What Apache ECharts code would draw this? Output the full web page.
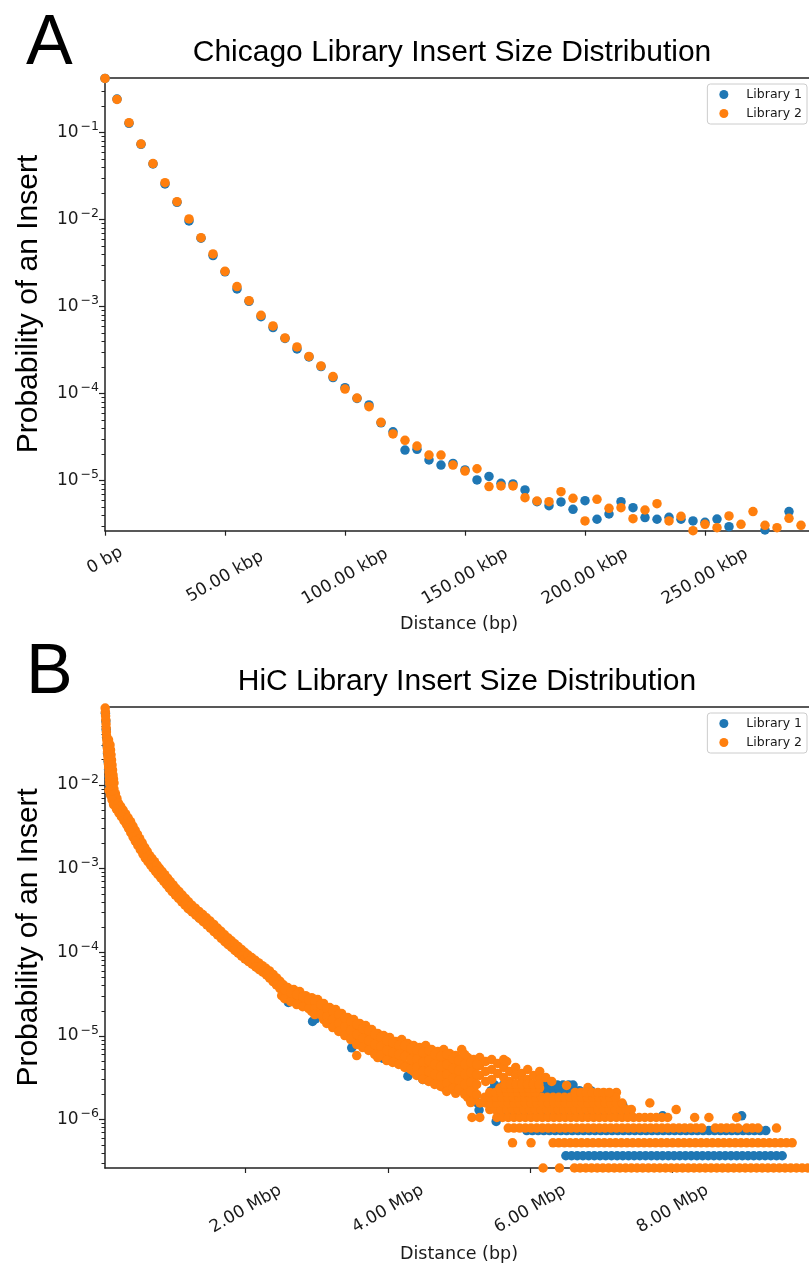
<!DOCTYPE html>
<html>
<head>
<meta charset="utf-8">
<title>Insert Size Distribution</title>
<script src="https://cdn.jsdelivr.net/npm/echarts@6/dist/echarts.min.js"></script>
<style>
  html, body { margin: 0; padding: 0; background: #fff; }
  #container { width: 809px; height: 1266px; }
</style>
</head>
<body>
<div id="container"></div>
<script>
var BLUE = '#1f77b4';
var ORANGE = '#ff7f0e';
var INK = '#1a1a1a';

// ---- Panel A: Chicago library (distance in bp) ----
var chicagoDist = [0, 5000, 10000, 15000, 20000, 25000, 30000, 35000, 40000, 45000,
  50000, 55000, 60000, 65000, 70000, 75000, 80000, 85000, 90000, 95000,
  100000, 105000, 110000, 115000, 120000, 125000, 130000, 135000, 140000, 145000,
  150000, 155000, 160000, 165000, 170000, 175000, 180000, 185000, 190000, 195000,
  200000, 205000, 210000, 215000, 220000, 225000, 230000, 235000, 240000, 245000,
  250000, 255000, 260000, 265000, 270000, 275000, 280000, 285000, 290000];
var chicagoLib1 = [0.42, 0.243, 0.128, 0.0735, 0.0437, 0.0257, 0.0158, 0.00966, 0.00612, 0.00386,
  0.00251, 0.00160, 0.00115, 0.000767, 0.000574, 0.000431, 0.000326, 0.000264, 0.000205, 0.000153,
  0.000117, 8.8e-5, 7.41e-5, 4.62e-5, 3.65e-5, 2.25e-5, 2.29e-5, 1.73e-5, 1.51e-5, 1.58e-5,
  1.33e-5, 1.02e-5, 1.12e-5, 9.31e-6, 9.16e-6, 7.82e-6, 5.74e-6, 5.16e-6, 5.69e-6, 4.68e-6,
  5.89e-6, 3.60e-6, 4.14e-6, 5.74e-6, 4.89e-6, 3.76e-6, 3.60e-6, 3.79e-6, 3.60e-6, 3.44e-6,
  3.32e-6, 3.62e-6, 2.96e-6, 2.55e-6, 2.50e-6, 2.71e-6, 2.50e-6, 4.41e-6, 2.50e-6];
var chicagoLib2 = [0.42, 0.241, 0.130, 0.0741, 0.0441, 0.0266, 0.0161, 0.0102, 0.00621, 0.00403,
  0.00255, 0.00170, 0.00117, 0.000795, 0.000600, 0.000437, 0.000344, 0.000268, 0.000208, 0.000157,
  0.000113, 8.91e-5, 7.09e-5, 4.68e-5, 3.44e-5, 2.91e-5, 2.50e-5, 1.97e-5, 1.97e-5, 1.51e-5,
  1.29e-5, 1.37e-5, 8.54e-6, 8.69e-6, 8.69e-6, 6.38e-6, 5.84e-6, 5.74e-6, 7.48e-6, 6.27e-6,
  3.44e-6, 6.10e-6, 4.81e-6, 4.89e-6, 3.66e-6, 4.60e-6, 5.44e-6, 3.44e-6, 3.89e-6, 2.66e-6,
  3.15e-6, 2.88e-6, 3.93e-6, 3.15e-6, 4.41e-6, 3.07e-6, 2.88e-6, 3.69e-6, 3.07e-6];
var chicagoXTicks = [0, 50000, 100000, 150000, 200000, 250000];
var chicagoYTicks = [1e-5, 1e-4, 1e-3, 1e-2, 1e-1];

// ---- Panel B: HiC library (distance in Mbp) ----
var hicCurveLib2 = [[0.025,0.0830],[0.028,0.0743],[0.031,0.0666],[0.034,0.0597],[0.037,0.0535],[0.039,0.0479],
  [0.042,0.0429],[0.045,0.0384],[0.048,0.0344],[0.051,0.0308],[0.055,0.0276],[0.058,0.0248],[0.062,0.0222],
  [0.066,0.0199],[0.070,0.0178],[0.074,0.0160],[0.079,0.0143],[0.083,0.0128],[0.086,0.0115],[0.089,0.0103],
  [0.072,0.0345],[0.093,0.0301],[0.100,0.0262],[0.107,0.0229],[0.114,0.0199],[0.121,0.01735],[0.128,0.0151],
  [0.135,0.01318],[0.142,0.0118],[0.149,0.01057],
  [0.148,0.00896],[0.080,0.00860],[0.101,0.00754],[0.169,0.00786],[0.190,0.00690],[0.122,0.00662],
  [0.143,0.00581],[0.211,0.00605],
  [0.242,0.00555],[0.183,0.00514],[0.218,0.00463],[0.277,0.00500],[0.312,0.00450],[0.253,0.00417],
  [0.288,0.00375],[0.347,0.00405],[0.382,0.00365],[0.323,0.00338],
  [0.353,0.00303],[0.415,0.00323],[0.447,0.00287],[0.385,0.00269],[0.417,0.00239],[0.479,0.00256],
  [0.510,0.00228],[0.448,0.00213],
  [0.484,0.00189],[0.545,0.00203],[0.580,0.00180],[0.519,0.00168],[0.554,0.00150],[0.615,0.00161],
  [0.650,0.00143],[0.590,0.00133],
  [0.627,0.00121],[0.683,0.00132],[0.718,0.00121],[0.662,0.00111],[0.697,0.00101],[0.753,0.00110],
  [0.788,0.00101],[0.732,0.000929],[0.767,0.000851],[0.824,0.000926],
  [0.862,0.000845],[0.808,0.000773],[0.848,0.000705],[0.901,0.000769],[0.940,0.000701],[0.887,0.000642],
  [0.926,0.000584],[0.980,0.000638],[1.019,0.000581],[0.966,0.000532],
  [1.012,0.000483],[1.063,0.000531],[1.108,0.000483],[1.057,0.000440],[1.102,0.000401],[1.152,0.000440],
  [1.197,0.000401],[1.147,0.000365],[1.192,0.000332],[1.242,0.000365],
  [1.292,0.000336],[1.247,0.000303],[1.299,0.000277],[1.344,0.000308],[1.396,0.000282],[1.351,0.000254],
  [1.403,0.000232],[1.448,0.000258],[1.500,0.000236],[1.455,0.000213],
  [1.504,0.000194],[1.552,0.000215],[1.602,0.000195],[1.554,0.000177],[1.605,0.000161],[1.653,0.000178],
  [1.703,0.000162],[1.656,0.000147],[1.706,0.000134],[1.754,0.000148],
  [1.799,0.000137],[1.754,0.000123],[1.802,0.000114],[1.847,0.000126],[1.893,0.000117],[1.848,0.000105],
  [1.895,9.76e-5],[1.940,0.000108],[1.987,1.00e-4],[1.942,9.02e-5],[1.989,8.35e-5],[2.034,9.27e-5],
  [2.083,8.63e-5],[2.041,7.73e-5],[2.091,7.19e-5],[2.134,8.03e-5],[2.184,7.46e-5],[2.142,6.68e-5],
  [2.191,6.20e-5],[2.233,6.92e-5],[2.284,6.44e-5],[2.242,5.77e-5],[2.292,5.36e-5],[2.334,5.98e-5],
  [2.387,5.42e-5],[2.336,4.91e-5],[2.384,4.47e-5],[2.434,4.93e-5],[2.482,4.49e-5],[2.432,4.07e-5],
  [2.479,3.71e-5],[2.529,4.09e-5],[2.578,3.73e-5],[2.527,3.38e-5]];
var hicCloudLib2 = [[2.506,4.10e-5],[2.506,3.03e-5],[2.590,3.78e-5],[2.590,2.87e-5],[2.675,3.58e-5],[2.675,2.72e-5],
  [2.759,3.39e-5],[2.759,2.57e-5],[2.843,3.03e-5],[2.843,2.44e-5],[2.928,2.87e-5],[2.928,2.31e-5],[2.928,1.96e-5],
  [3.012,2.72e-5],[3.012,2.07e-5],[3.096,2.44e-5],[3.096,1.85e-5],[3.096,1.57e-5],
  [3.181,2.18e-5],[3.181,1.75e-5],[3.181,1.41e-5],[3.265,2.07e-5],[3.265,1.57e-5],[3.265,1.26e-5],
  [3.349,1.85e-5],[3.349,1.49e-5],[3.349,1.13e-5],[3.434,1.66e-5],[3.434,1.33e-5],[3.434,1.01e-5],
  [3.518,1.57e-5],[3.518,1.19e-5],[3.518,9.06e-6],[3.560,5.83e-6],
  [3.602,1.41e-5],[3.602,1.07e-5],[3.602,8.11e-6],[3.686,1.33e-5],[3.686,1.01e-5],[3.686,7.68e-6],
  [3.771,1.19e-5],[3.771,9.06e-6],[3.771,6.88e-6],[3.855,1.07e-5],[3.855,8.57e-6],[3.855,6.51e-6],[3.855,5.52e-6],
  [3.939,1.01e-5],[3.939,7.68e-6],[3.939,5.83e-6],[4.024,9.57e-6],[4.024,7.27e-6],[4.024,5.52e-6],
  [4.108,8.57e-6],[4.108,6.88e-6],[4.108,5.22e-6],[4.192,9.06e-6],[4.192,6.51e-6],[4.192,4.95e-6],
  [4.277,8.11e-6],[4.277,6.16e-6],[4.277,4.43e-6],[4.361,7.68e-6],[4.361,5.83e-6],[4.361,4.69e-6],[4.361,3.76e-6],
  [4.445,7.27e-6],[4.445,5.52e-6],[4.445,4.20e-6],[4.445,3.37e-6],[4.530,7.68e-6],[4.530,5.83e-6],[4.530,4.43e-6],[4.530,3.19e-6],
  [4.614,6.88e-6],[4.614,5.22e-6],[4.614,3.97e-6],[4.614,3.02e-6],[4.698,6.51e-6],[4.698,4.95e-6],[4.698,3.76e-6],[4.698,2.86e-6],
  [4.783,6.88e-6],[4.783,5.22e-6],[4.783,3.97e-6],[4.783,3.02e-6],[4.783,2.42e-6],
  [4.867,6.16e-6],[4.867,4.69e-6],[4.867,3.56e-6],[4.867,2.70e-6],
  [4.951,5.83e-6],[4.951,4.43e-6],[4.951,3.37e-6],[4.951,2.56e-6],[4.951,2.06e-6],
  [5.036,6.88e-6],[5.036,5.22e-6],[5.036,3.97e-6],[5.036,3.02e-6],[5.036,2.29e-6],
  [5.120,5.52e-6],[5.120,4.20e-6],[5.120,3.19e-6],[5.120,2.42e-6],[5.120,1.84e-6],
  [5.204,5.22e-6],[5.204,3.97e-6],[5.204,3.02e-6],[5.204,2.29e-6],[5.204,1.74e-6],
  [5.289,5.52e-6],[5.289,4.43e-6],[5.289,3.37e-6],[5.373,4.95e-6],[5.373,3.76e-6],[5.373,2.86e-6],
  [5.457,5.22e-6],[5.457,3.97e-6],[5.457,3.02e-6],[5.542,4.69e-6],[5.542,3.56e-6],
  [5.626,5.22e-6],[5.626,4.20e-6],[5.626,3.19e-6],[5.668,4.95e-6],[5.710,3.76e-6],[5.710,2.86e-6],
  [5.794,4.20e-6],[5.794,3.37e-6],[5.879,3.56e-6],[5.879,2.86e-6],[5.963,3.97e-6],[5.963,3.02e-6],
  [6.047,3.37e-6],[6.132,3.76e-6],[6.132,3.02e-6],[6.216,3.19e-6],[6.301,2.86e-6],
  [6.51,2.56e-6],[6.81,2.42e-6],[7.21,2.11e-6],[7.42,1.32e-6],[8.31,1.06e-6],[8.51,1.06e-6],[9.46,7.92e-7],
  [2.548,3.58e-5],[2.548,2.79e-5],[2.632,3.30e-5],[2.632,2.57e-5],[2.717,3.12e-5],[2.717,2.37e-5],
  [2.801,2.95e-5],[2.801,2.24e-5],[2.886,2.72e-5],[2.886,2.12e-5],[2.970,2.57e-5],[2.970,2.12e-5],[2.970,1.80e-5],
  [3.054,2.37e-5],[3.054,1.80e-5],[3.139,2.12e-5],[3.139,1.70e-5],[3.139,1.41e-5],
  [3.223,1.96e-5],[3.223,1.57e-5],[3.223,1.26e-5],[3.307,1.80e-5],[3.307,1.41e-5],[3.307,1.13e-5],
  [3.392,1.66e-5],[3.392,1.29e-5],[3.392,1.01e-5],[3.476,1.49e-5],[3.476,1.16e-5],[3.476,9.06e-6],
  [3.560,1.37e-5],[3.560,1.04e-5],[3.560,7.89e-6],[3.644,1.22e-5],[3.644,9.31e-6],[3.644,7.27e-6],
  [3.729,1.16e-5],[3.729,8.81e-6],[3.729,6.70e-6],[3.813,1.04e-5],[3.813,7.89e-6],[3.813,6.00e-6],
  [3.897,9.57e-6],[3.897,7.47e-6],[3.897,5.83e-6],[3.982,8.81e-6],[3.982,6.70e-6],[3.982,5.08e-6],
  [4.066,8.34e-6],[4.066,6.34e-6],[4.066,4.82e-6],[4.150,7.68e-6],[4.150,6.00e-6],[4.150,4.56e-6],
  [4.235,7.68e-6],[4.235,5.68e-6],[4.235,4.20e-6],[4.319,7.07e-6],[4.319,5.22e-6],[4.319,3.97e-6],
  [4.403,6.70e-6],[4.403,5.22e-6],[4.403,4.20e-6],[4.403,3.37e-6],
  [4.488,6.34e-6],[4.488,4.82e-6],[4.488,3.76e-6],[4.488,3.02e-6],
  [4.572,6.70e-6],[4.572,5.08e-6],[4.572,3.76e-6],[4.572,2.86e-6],
  [4.656,6.00e-6],[4.656,4.56e-6],[4.656,3.46e-6],[4.656,2.63e-6],
  [4.741,5.68e-6],[4.741,4.31e-6],[4.741,3.28e-6],[4.741,2.49e-6],
  [4.825,6.00e-6],[4.825,4.56e-6],[4.825,3.46e-6],[4.825,2.70e-6],[4.825,2.17e-6],
  [4.909,5.37e-6],[4.909,4.08e-6],[4.909,3.10e-6],[4.909,2.36e-6],
  [4.994,5.08e-6],[4.994,3.86e-6],[4.994,2.94e-6],[4.994,2.29e-6],
  [5.078,6.00e-6],[5.078,4.56e-6],[5.078,3.46e-6],[5.078,2.63e-6],[5.078,2.00e-6],
  [5.162,4.82e-6],[5.162,3.66e-6],[5.162,2.78e-6],[5.162,2.16e-6],[5.162,1.60e-6],
  [5.247,4.56e-6],[5.247,3.46e-6],[5.247,2.63e-6],[5.247,2.00e-6]];
// quantised rows: [probability, [distances in Mbp]]
var hicRowsLib2 = [
  [2.64e-7, [6.18, 6.41, 6.62, 6.70, 6.78, 6.86, 6.94, 7.02, 7.10, 7.18, 7.26, 7.34, 7.42, 7.50, 7.58, 7.66, 7.74, 7.82,
    7.90, 7.98, 8.06, 8.14, 8.22, 8.30, 8.38, 8.46, 8.54, 8.62, 8.70, 8.78, 8.86, 8.94, 9.02, 9.10, 9.18, 9.26, 9.34,
    9.42, 9.50, 9.58, 9.66, 9.74, 9.82, 9.90, 9.98]],
  [5.28e-7, [5.75, 6.01, 6.32, 6.40, 6.48, 6.56, 6.64, 6.72, 6.80, 6.88, 6.96, 7.04, 7.12, 7.20, 7.28, 7.36, 7.44, 7.52,
    7.60, 7.68, 7.76, 7.84, 7.92, 8.00, 8.08, 8.16, 8.24, 8.32, 8.40, 8.48, 8.56, 8.64, 8.72, 8.80, 8.88, 8.96, 9.04,
    9.12, 9.20, 9.28, 9.36, 9.44, 9.52, 9.60, 9.68]],
  [7.92e-7, [5.69, 5.77, 5.85, 5.93, 6.01, 6.09, 6.17, 6.25, 6.33, 6.41, 6.49, 6.57, 6.65, 6.73, 6.81, 6.89, 6.97, 7.05,
    7.13, 7.21, 7.29, 7.37, 7.45, 7.53, 7.61, 7.69, 7.77, 7.85, 7.93, 8.01, 8.09, 8.17, 8.25, 8.33, 8.41, 8.60, 8.68,
    8.76, 8.84, 8.92, 9.04, 9.12, 9.20]],
  [1.06e-6, [5.18, 5.29, 5.53, 5.61, 5.69, 5.77, 5.85, 5.93, 6.01, 6.09, 6.17, 6.25, 6.33, 6.41, 6.49, 6.57, 6.65, 6.73,
    6.81, 6.89, 6.97, 7.05, 7.13, 7.21, 7.29, 7.37, 7.45, 7.53, 7.61, 7.69, 7.77, 7.85, 7.93, 8.90]],
  [1.32e-6, [5.43, 5.51, 5.59, 5.67, 5.75, 5.83, 5.91, 5.99, 6.07, 6.15, 6.23, 6.31, 6.39, 6.47, 6.55, 6.63, 6.71, 6.79,
    6.87, 6.95, 7.03, 7.11, 7.19, 7.27, 7.35, 8.05]],
  [1.58e-6, [5.29, 5.37, 5.45, 5.53, 5.61, 5.69, 5.77, 5.85, 5.93, 6.01, 6.09, 6.17, 6.25, 6.33, 6.41, 6.49, 6.57, 6.65,
    6.73, 6.81, 6.89, 6.97, 7.05, 7.13, 7.21, 7.29, 7.68]],
  [1.85e-6, [5.36, 5.44, 5.52, 5.60, 5.68, 5.76, 5.84, 5.92, 6.00, 6.08, 6.16, 6.24, 6.32, 6.40, 6.48, 6.56, 6.64, 6.72,
    6.80, 6.88, 6.96, 7.04, 7.12, 7.20]],
  [2.11e-6, [5.43, 5.51, 5.59, 5.67, 5.75, 5.83, 5.91, 5.99, 6.07, 6.63, 6.71, 6.79, 6.87, 6.95, 7.03, 7.11]],
  [2.38e-6, [5.57, 5.65, 5.73, 5.81, 5.89, 5.97, 6.05, 6.13]],
  [2.64e-6, [5.64, 5.72, 5.80, 5.88, 5.96, 6.04, 6.12]]
];

var hicCurveLib1 = [[0.028,0.072],[0.034,0.058],[0.039,0.046],[0.045,0.037],[0.051,0.0296],[0.058,0.0238],
  [0.066,0.0191],[0.074,0.0154],[0.083,0.0123],[0.089,0.0099],
  [0.135,0.00719],[0.177,0.00553],[0.247,0.00450],[0.353,0.00328],[0.416,0.00260],[0.479,0.00206],[0.550,0.00163],
  [0.620,0.00129],[0.708,0.00103],[0.795,0.000829],[0.894,0.000656],[0.993,0.000519],[1.105,0.000411],
  [1.217,0.000325],[1.344,0.000261],[1.477,0.000209],[1.604,0.000166],[1.730,0.000131],[1.871,0.000104],
  [2.011,8.21e-5],[2.159,6.59e-5],[2.313,5.29e-5],[2.433,4.18e-5],[2.552,3.31e-5]];
var hicCloudLib1 = [[2.53,3.4e-5],[2.60,2.51e-5],[2.70,3.0e-5],[2.80,2.6e-5],[2.94,1.49e-5],[2.98,1.6e-5],[3.05,2.1e-5],
  [3.15,1.55e-5],[3.25,1.5e-5],[3.35,1.2e-5],[3.49,7.2e-6],[3.55,1.1e-5],[3.65,9.0e-6],[3.75,8.5e-6],[3.93,5.4e-6],
  [4.00,7.0e-6],[4.10,6.2e-6],[4.28,3.3e-6],[4.35,5.0e-6],[4.49,3.02e-6],[4.60,4.2e-6],[4.70,3.6e-6],[4.85,3.2e-6],
  [5.00,2.8e-6],[5.17,1.9e-6],[5.25,1.6e-6],[5.28,1.3e-6],[5.52,9.5e-7]];
var hicRowsLib1 = [
  [3.70e-7, [6.50, 6.58, 6.66, 6.74, 6.82, 6.90, 6.98, 7.06, 7.14, 7.22, 7.30, 7.38, 7.46, 7.54, 7.62, 7.70, 7.78, 7.86,
    7.94, 8.02, 8.10, 8.18, 8.26, 8.34, 8.42, 8.50, 8.58, 8.66, 8.74, 8.82, 8.90, 8.98, 9.06, 9.14, 9.22, 9.30, 9.38,
    9.46, 9.54]],
  [7.40e-7, [5.95, 6.03, 6.11, 6.19, 6.27, 6.35, 6.43, 6.51, 6.59, 6.67, 6.75, 6.83, 6.91, 6.99, 7.07, 7.15, 7.23, 7.31,
    7.39, 7.47, 7.55, 7.63, 7.71, 7.79, 7.87, 7.95, 8.03, 8.11, 8.19, 8.27, 8.35, 8.43, 8.51, 8.59, 8.67, 8.75, 8.83,
    8.91, 8.99, 9.07, 9.15, 9.23, 9.31]],
  [1.11e-6, [5.60, 5.72, 5.84, 5.96, 6.08, 6.20, 6.32, 6.44, 6.56, 6.68, 6.80, 6.92, 7.04, 7.16, 7.28, 7.40, 7.86, 8.97]],
  [1.48e-6, [5.50, 5.62, 5.74, 5.86, 5.98, 6.10, 6.22, 6.34, 6.46, 6.58, 6.70, 6.82, 6.94, 7.06, 7.16, 7.23, 7.30]],
  [1.85e-6, [5.45, 5.57, 5.69, 5.81, 5.93, 6.05, 6.17, 6.25, 6.33, 6.41, 6.49, 6.57, 6.65, 6.77, 6.89, 7.00]],
  [2.22e-6, [5.45, 5.57, 5.69, 5.81, 5.93, 6.05, 6.17, 6.25, 6.33, 6.41, 6.49, 6.57, 6.69, 6.85]],
  [2.59e-6, [5.50, 5.62, 5.74, 5.86, 5.98, 6.10, 6.22, 6.30, 6.38, 6.46, 6.54, 6.60]]
];
var hicXTicks = [2, 4, 6, 8];
var hicYTicks = [1e-6, 1e-5, 1e-4, 1e-3, 1e-2];

// ---- helpers ----
function zip(xs, ys) {
  return xs.map(function (x, i) { return [x, ys[i]]; });
}
function expandRows(rows) {
  var out = [];
  rows.forEach(function (r) {
    r[1].forEach(function (x) { out.push([x, r[0]]); });
  });
  return out;
}
function minorLogTicks(lo, hi) {
  var out = [];
  for (var e = Math.floor(Math.log10(lo)); e <= Math.ceil(Math.log10(hi)); e++) {
    for (var m = 2; m <= 9; m++) {
      var v = m * Math.pow(10, e);
      if (v >= lo && v <= hi) out.push(v);
    }
  }
  return out;
}
function powLabel(v) {
  var e = Math.log10(v);
  if (Math.abs(e - Math.round(e)) > 1e-6) return '';
  return '{b|10}{s|\u2212' + Math.abs(Math.round(e)) + '}';
}
function bpLabel(v) {
  if (v === 0) return '{z|0 bp}';
  return (v / 1000).toFixed(2) + ' kbp';
}
function mbpLabel(v) {
  return v.toFixed(2) + ' Mbp';
}

var spine = { color: '#222', width: 1.5 };
var tickFont = { fontFamily: 'DejaVu Sans', fontSize: 17, color: INK };
var powRich = {
  b: { fontFamily: 'DejaVu Sans', fontSize: 17, color: INK, lineHeight: 24 },
  s: { fontFamily: 'DejaVu Sans', fontSize: 12.5, color: INK, verticalAlign: 'top', lineHeight: 12, padding: [0, 0, 0, 2] }
};

function panelAxes(p) {
  var x = [
    {
      gridIndex: p.grid, type: 'value', min: p.xMin, max: p.xMax, position: 'bottom',
      axisLine: { onZero: false, lineStyle: spine },
      axisTick: { customValues: p.xTicks, length: 5, lineStyle: { color: '#222', width: 1.2 } },
      axisLabel: Object.assign({
        customValues: p.xTicks, formatter: p.xFormat, rotate: 30, align: 'center',
        verticalAlign: 'middle', margin: p.xMargin,
        rich: { z: { fontFamily: 'DejaVu Sans', fontSize: 17, color: INK, padding: [0, 0, 28, 16] } }
      }, tickFont),
      splitLine: { show: false },
      name: 'Distance (bp)', nameLocation: 'middle', nameGap: p.nameGap, nameMoveOverlap: false,
      nameTextStyle: { fontFamily: 'DejaVu Sans', fontSize: 17.5, color: INK }
    },
    {
      gridIndex: p.grid, type: 'value', min: p.xMin, max: p.xMax, position: 'top',
      axisLine: { onZero: false, lineStyle: spine },
      axisTick: { show: false }, axisLabel: { show: false }, splitLine: { show: false }
    }
  ];
  var y = [
    {
      gridIndex: p.grid, type: 'log', logBase: 10, min: p.yMin, max: p.yMax, position: 'left',
      axisLine: { show: true, onZero: false, lineStyle: spine },
      axisTick: { show: true, customValues: p.yTicks, length: 6, lineStyle: { color: '#222', width: 1.2 } },
      axisLabel: { customValues: p.yTicks, formatter: powLabel, margin: 6, rich: powRich },
      splitLine: { show: false },
      name: 'Probability of an Insert', nameLocation: 'middle', nameGap: 61, nameMoveOverlap: false,
      nameTextStyle: { fontFamily: 'Liberation Sans', fontSize: 30, color: '#000' }
    },
    {
      gridIndex: p.grid, type: 'log', logBase: 10, min: p.yMin, max: p.yMax, position: 'left',
      axisLine: { show: false },
      axisTick: { show: true, customValues: minorLogTicks(p.yMin, p.yMax), length: 3.5, lineStyle: { color: '#222', width: 1 } },
      axisLabel: { show: false }, splitLine: { show: false }
    }
  ];
  return { x: x, y: y };
}

var axA = panelAxes({ grid: 0, xMin: 0, xMax: 295000, xTicks: chicagoXTicks, xFormat: bpLabel, xMargin: 46, nameGap: 85,
  yMin: 2.66e-6, yMax: 0.4325, yTicks: chicagoYTicks });
var axB = panelAxes({ grid: 1, xMin: 0.0225, xMax: 9.973, xTicks: hicXTicks, xFormat: mbpLabel, xMargin: 41, nameGap: 77,
  yMin: 2.64e-7, yMax: 0.0861, yTicks: hicYTicks });

function legendAt(top) {
  return {
    data: ['Library 1', 'Library 2'], orient: 'vertical', right: 2, top: top,
    icon: 'circle', itemWidth: 9, itemHeight: 9, itemGap: 6,
    padding: [4, 5, 4, 12], borderColor: '#cccccc', borderWidth: 1, borderRadius: 3,
    backgroundColor: '#ffffff', selectedMode: false,
    textStyle: { fontFamily: 'DejaVu Sans', fontSize: 12.5, color: INK, padding: [0, 0, 0, 13] }
  };
}

function scatter(name, color, xi, yi, data) {
  return {
    name: name, type: 'scatter', xAxisIndex: xi, yAxisIndex: yi, data: data,
    symbol: 'circle', symbolSize: 9.5, itemStyle: { color: color, opacity: 1 },
    emphasis: { disabled: true }, clip: true
  };
}

var titleFont = { fontFamily: 'Liberation Sans', fontWeight: 'normal', color: '#000' };

var option = {
  animation: false,
  backgroundColor: '#ffffff',
  title: [
    { text: 'A', left: 26, top: 10, padding: 0, textStyle: Object.assign({ fontSize: 70 }, titleFont) },
    { text: 'Chicago Library Insert Size Distribution', left: 452, top: 38, padding: 0, textAlign: 'center',
      textStyle: Object.assign({ fontSize: 30 }, titleFont) },
    { text: 'B', left: 26, top: 639, padding: 0, textStyle: Object.assign({ fontSize: 70 }, titleFont) },
    { text: 'HiC Library Insert Size Distribution', left: 467, top: 667, padding: 0, textAlign: 'center',
      textStyle: Object.assign({ fontSize: 30 }, titleFont) }
  ],
  legend: [legendAt(84), legendAt(713)],
  grid: [
    { left: 105, right: -4, top: 77.3, height: 453.4, containLabel: false, outerBoundsMode: 'none' },
    { left: 105, right: -4, top: 706.7, height: 461.3, containLabel: false, outerBoundsMode: 'none' }
  ],
  xAxis: axA.x.concat(axB.x),
  yAxis: axA.y.concat(axB.y),
  series: [
    scatter('Library 1', BLUE, 0, 0, zip(chicagoDist, chicagoLib1)),
    scatter('Library 2', ORANGE, 0, 0, zip(chicagoDist, chicagoLib2)),
    scatter('Library 1', BLUE, 2, 2, hicCurveLib1.concat(hicCloudLib1, expandRows(hicRowsLib1))),
    scatter('Library 2', ORANGE, 2, 2, hicCurveLib2.concat(hicCloudLib2, expandRows(hicRowsLib2)))
  ]
};

var chart = echarts.init(document.getElementById('container'), null, { renderer: 'canvas' });
chart.setOption(option);
</script>
</body>
</html>
